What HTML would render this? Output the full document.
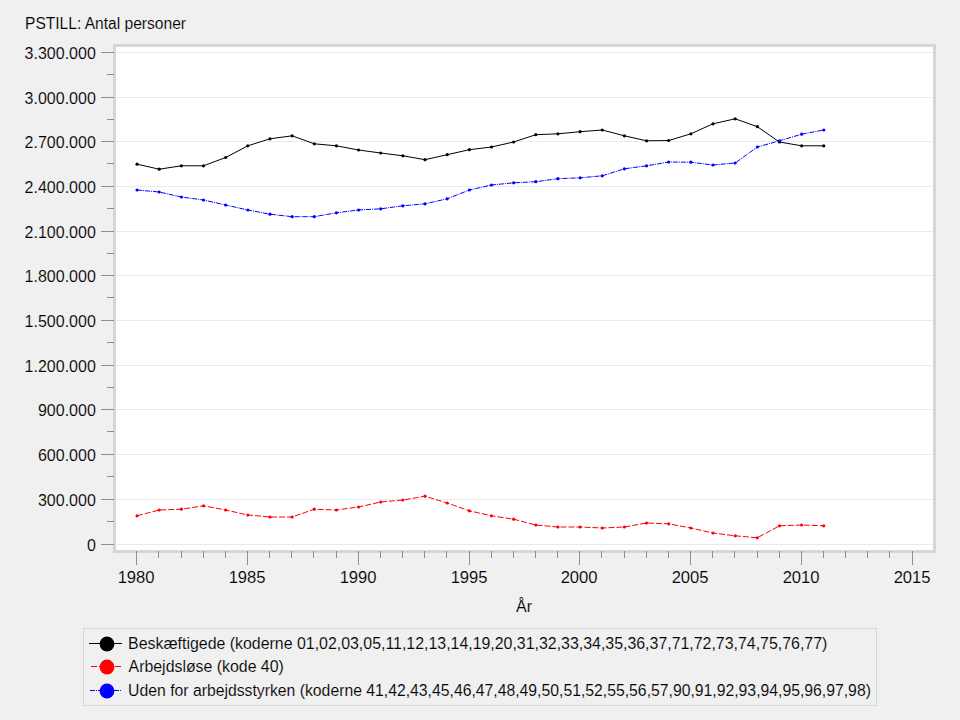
<!DOCTYPE html>
<html><head><meta charset="utf-8"><title>PSTILL</title>
<style>
html,body{margin:0;padding:0;background:#f0f0f0;width:960px;height:720px;overflow:hidden}
svg{display:block}
text{font-family:"Liberation Sans",sans-serif;font-size:16px;fill:#000;stroke:#f0f0f0;stroke-width:0.12px}
</style></head><body>
<svg width="960" height="720" viewBox="0 0 960 720">
<rect x="113" y="44" width="823" height="509" fill="#d5d6d5"/>
<rect x="116" y="47" width="817" height="503" fill="#fff"/>
<g shape-rendering="crispEdges"><rect x="116" y="544" width="817" height="1" fill="#efefef"/><line x1="116" x2="933" y1="544.5" y2="544.5" stroke="#e5e9e5" stroke-width="1" stroke-dasharray="1 1"/><rect x="116" y="499" width="817" height="1" fill="#efefef"/><line x1="116" x2="933" y1="499.5" y2="499.5" stroke="#e5e9e5" stroke-width="1" stroke-dasharray="1 1"/><rect x="116" y="454" width="817" height="1" fill="#efefef"/><line x1="116" x2="933" y1="454.5" y2="454.5" stroke="#e5e9e5" stroke-width="1" stroke-dasharray="1 1"/><rect x="116" y="409" width="817" height="1" fill="#efefef"/><line x1="116" x2="933" y1="409.5" y2="409.5" stroke="#e5e9e5" stroke-width="1" stroke-dasharray="1 1"/><rect x="116" y="365" width="817" height="1" fill="#efefef"/><line x1="116" x2="933" y1="365.5" y2="365.5" stroke="#e5e9e5" stroke-width="1" stroke-dasharray="1 1"/><rect x="116" y="320" width="817" height="1" fill="#efefef"/><line x1="116" x2="933" y1="320.5" y2="320.5" stroke="#e5e9e5" stroke-width="1" stroke-dasharray="1 1"/><rect x="116" y="275" width="817" height="1" fill="#efefef"/><line x1="116" x2="933" y1="275.5" y2="275.5" stroke="#e5e9e5" stroke-width="1" stroke-dasharray="1 1"/><rect x="116" y="231" width="817" height="1" fill="#efefef"/><line x1="116" x2="933" y1="231.5" y2="231.5" stroke="#e5e9e5" stroke-width="1" stroke-dasharray="1 1"/><rect x="116" y="186" width="817" height="1" fill="#efefef"/><line x1="116" x2="933" y1="186.5" y2="186.5" stroke="#e5e9e5" stroke-width="1" stroke-dasharray="1 1"/><rect x="116" y="141" width="817" height="1" fill="#efefef"/><line x1="116" x2="933" y1="141.5" y2="141.5" stroke="#e5e9e5" stroke-width="1" stroke-dasharray="1 1"/><rect x="116" y="97" width="817" height="1" fill="#efefef"/><line x1="116" x2="933" y1="97.5" y2="97.5" stroke="#e5e9e5" stroke-width="1" stroke-dasharray="1 1"/><rect x="116" y="52" width="817" height="1" fill="#efefef"/><line x1="116" x2="933" y1="52.5" y2="52.5" stroke="#e5e9e5" stroke-width="1" stroke-dasharray="1 1"/></g>
<g shape-rendering="crispEdges"><rect x="101" y="544" width="13" height="1" fill="#8b8f96"/><rect x="107" y="521" width="7" height="1" fill="#8b8f96"/><rect x="101" y="499" width="13" height="1" fill="#8b8f96"/><rect x="107" y="476" width="7" height="1" fill="#8b8f96"/><rect x="101" y="454" width="13" height="1" fill="#8b8f96"/><rect x="107" y="431" width="7" height="1" fill="#8b8f96"/><rect x="101" y="409" width="13" height="1" fill="#8b8f96"/><rect x="107" y="387" width="7" height="1" fill="#8b8f96"/><rect x="101" y="365" width="13" height="1" fill="#8b8f96"/><rect x="107" y="342" width="7" height="1" fill="#8b8f96"/><rect x="101" y="320" width="13" height="1" fill="#8b8f96"/><rect x="107" y="297" width="7" height="1" fill="#8b8f96"/><rect x="101" y="275" width="13" height="1" fill="#8b8f96"/><rect x="107" y="253" width="7" height="1" fill="#8b8f96"/><rect x="101" y="231" width="13" height="1" fill="#8b8f96"/><rect x="107" y="208" width="7" height="1" fill="#8b8f96"/><rect x="101" y="186" width="13" height="1" fill="#8b8f96"/><rect x="107" y="163" width="7" height="1" fill="#8b8f96"/><rect x="101" y="141" width="13" height="1" fill="#8b8f96"/><rect x="107" y="119" width="7" height="1" fill="#8b8f96"/><rect x="101" y="97" width="13" height="1" fill="#8b8f96"/><rect x="107" y="74" width="7" height="1" fill="#8b8f96"/><rect x="101" y="52" width="13" height="1" fill="#8b8f96"/><rect x="136" y="551" width="1" height="14" fill="#8b8f96"/><rect x="158" y="551" width="1" height="7" fill="#8b8f96"/><rect x="181" y="551" width="1" height="7" fill="#8b8f96"/><rect x="203" y="551" width="1" height="7" fill="#8b8f96"/><rect x="225" y="551" width="1" height="7" fill="#8b8f96"/><rect x="247" y="551" width="1" height="14" fill="#8b8f96"/><rect x="269" y="551" width="1" height="7" fill="#8b8f96"/><rect x="291" y="551" width="1" height="7" fill="#8b8f96"/><rect x="313" y="551" width="1" height="7" fill="#8b8f96"/><rect x="336" y="551" width="1" height="7" fill="#8b8f96"/><rect x="358" y="551" width="1" height="14" fill="#8b8f96"/><rect x="380" y="551" width="1" height="7" fill="#8b8f96"/><rect x="402" y="551" width="1" height="7" fill="#8b8f96"/><rect x="424" y="551" width="1" height="7" fill="#8b8f96"/><rect x="446" y="551" width="1" height="7" fill="#8b8f96"/><rect x="469" y="551" width="1" height="14" fill="#8b8f96"/><rect x="491" y="551" width="1" height="7" fill="#8b8f96"/><rect x="513" y="551" width="1" height="7" fill="#8b8f96"/><rect x="535" y="551" width="1" height="7" fill="#8b8f96"/><rect x="557" y="551" width="1" height="7" fill="#8b8f96"/><rect x="579" y="551" width="1" height="14" fill="#8b8f96"/><rect x="601" y="551" width="1" height="7" fill="#8b8f96"/><rect x="624" y="551" width="1" height="7" fill="#8b8f96"/><rect x="646" y="551" width="1" height="7" fill="#8b8f96"/><rect x="668" y="551" width="1" height="7" fill="#8b8f96"/><rect x="690" y="551" width="1" height="14" fill="#8b8f96"/><rect x="712" y="551" width="1" height="7" fill="#8b8f96"/><rect x="734" y="551" width="1" height="7" fill="#8b8f96"/><rect x="757" y="551" width="1" height="7" fill="#8b8f96"/><rect x="779" y="551" width="1" height="7" fill="#8b8f96"/><rect x="801" y="551" width="1" height="14" fill="#8b8f96"/><rect x="823" y="551" width="1" height="7" fill="#8b8f96"/><rect x="845" y="551" width="1" height="7" fill="#8b8f96"/><rect x="867" y="551" width="1" height="7" fill="#8b8f96"/><rect x="889" y="551" width="1" height="7" fill="#8b8f96"/><rect x="912" y="551" width="1" height="14" fill="#8b8f96"/></g>
<polyline points="137.06,164.2 159.21,169.2 181.36,165.8 203.52,165.8 225.67,157.5 247.82,145.8 269.97,138.8 292.12,135.8 314.28,143.8 336.43,145.8 358.58,150 380.73,153 402.88,155.8 425.04,159.7 447.19,154.7 469.34,149.7 491.49,147 513.64,142 535.80,134.7 557.95,133.8 580.10,131.7 602.25,130 624.40,135.8 646.56,140.8 668.71,140.5 690.86,133.8 713.01,123.8 735.16,118.8 757.32,126.7 779.47,142 801.62,145.8 823.77,145.8" fill="none" stroke="#000" stroke-width="1.0" stroke-linejoin="round"/><circle cx="137.06" cy="164.2" r="1.6" fill="#000"/><circle cx="159.21" cy="169.2" r="1.6" fill="#000"/><circle cx="181.36" cy="165.8" r="1.6" fill="#000"/><circle cx="203.52" cy="165.8" r="1.6" fill="#000"/><circle cx="225.67" cy="157.5" r="1.6" fill="#000"/><circle cx="247.82" cy="145.8" r="1.6" fill="#000"/><circle cx="269.97" cy="138.8" r="1.6" fill="#000"/><circle cx="292.12" cy="135.8" r="1.6" fill="#000"/><circle cx="314.28" cy="143.8" r="1.6" fill="#000"/><circle cx="336.43" cy="145.8" r="1.6" fill="#000"/><circle cx="358.58" cy="150" r="1.6" fill="#000"/><circle cx="380.73" cy="153" r="1.6" fill="#000"/><circle cx="402.88" cy="155.8" r="1.6" fill="#000"/><circle cx="425.04" cy="159.7" r="1.6" fill="#000"/><circle cx="447.19" cy="154.7" r="1.6" fill="#000"/><circle cx="469.34" cy="149.7" r="1.6" fill="#000"/><circle cx="491.49" cy="147" r="1.6" fill="#000"/><circle cx="513.64" cy="142" r="1.6" fill="#000"/><circle cx="535.80" cy="134.7" r="1.6" fill="#000"/><circle cx="557.95" cy="133.8" r="1.6" fill="#000"/><circle cx="580.10" cy="131.7" r="1.6" fill="#000"/><circle cx="602.25" cy="130" r="1.6" fill="#000"/><circle cx="624.40" cy="135.8" r="1.6" fill="#000"/><circle cx="646.56" cy="140.8" r="1.6" fill="#000"/><circle cx="668.71" cy="140.5" r="1.6" fill="#000"/><circle cx="690.86" cy="133.8" r="1.6" fill="#000"/><circle cx="713.01" cy="123.8" r="1.6" fill="#000"/><circle cx="735.16" cy="118.8" r="1.6" fill="#000"/><circle cx="757.32" cy="126.7" r="1.6" fill="#000"/><circle cx="779.47" cy="142" r="1.6" fill="#000"/><circle cx="801.62" cy="145.8" r="1.6" fill="#000"/><circle cx="823.77" cy="145.8" r="1.6" fill="#000"/>
<polyline points="137.06,515.8 159.21,510 181.36,509.2 203.52,505.8 225.67,510 247.82,515 269.97,517 292.12,517 314.28,509.2 336.43,510 358.58,507 380.73,502 402.88,500 425.04,496.2 447.19,503 469.34,510.8 491.49,515.8 513.64,519.2 535.80,525 557.95,527 580.10,527 602.25,528 624.40,527 646.56,523 668.71,523.8 690.86,528 713.01,533 735.16,535.8 757.32,537.8 779.47,525.8 801.62,525 823.77,525.8" fill="none" stroke="#f00" stroke-width="1.0" stroke-dasharray="6 2" stroke-linejoin="round"/><circle cx="137.06" cy="515.8" r="1.6" fill="#f00"/><circle cx="159.21" cy="510" r="1.6" fill="#f00"/><circle cx="181.36" cy="509.2" r="1.6" fill="#f00"/><circle cx="203.52" cy="505.8" r="1.6" fill="#f00"/><circle cx="225.67" cy="510" r="1.6" fill="#f00"/><circle cx="247.82" cy="515" r="1.6" fill="#f00"/><circle cx="269.97" cy="517" r="1.6" fill="#f00"/><circle cx="292.12" cy="517" r="1.6" fill="#f00"/><circle cx="314.28" cy="509.2" r="1.6" fill="#f00"/><circle cx="336.43" cy="510" r="1.6" fill="#f00"/><circle cx="358.58" cy="507" r="1.6" fill="#f00"/><circle cx="380.73" cy="502" r="1.6" fill="#f00"/><circle cx="402.88" cy="500" r="1.6" fill="#f00"/><circle cx="425.04" cy="496.2" r="1.6" fill="#f00"/><circle cx="447.19" cy="503" r="1.6" fill="#f00"/><circle cx="469.34" cy="510.8" r="1.6" fill="#f00"/><circle cx="491.49" cy="515.8" r="1.6" fill="#f00"/><circle cx="513.64" cy="519.2" r="1.6" fill="#f00"/><circle cx="535.80" cy="525" r="1.6" fill="#f00"/><circle cx="557.95" cy="527" r="1.6" fill="#f00"/><circle cx="580.10" cy="527" r="1.6" fill="#f00"/><circle cx="602.25" cy="528" r="1.6" fill="#f00"/><circle cx="624.40" cy="527" r="1.6" fill="#f00"/><circle cx="646.56" cy="523" r="1.6" fill="#f00"/><circle cx="668.71" cy="523.8" r="1.6" fill="#f00"/><circle cx="690.86" cy="528" r="1.6" fill="#f00"/><circle cx="713.01" cy="533" r="1.6" fill="#f00"/><circle cx="735.16" cy="535.8" r="1.6" fill="#f00"/><circle cx="757.32" cy="537.8" r="1.6" fill="#f00"/><circle cx="779.47" cy="525.8" r="1.6" fill="#f00"/><circle cx="801.62" cy="525" r="1.6" fill="#f00"/><circle cx="823.77" cy="525.8" r="1.6" fill="#f00"/>
<polyline points="137.06,190 159.21,192 181.36,197 203.52,200 225.67,205 247.82,210 269.97,214.2 292.12,216.7 314.28,216.7 336.43,212.8 358.58,210 380.73,208.8 402.88,205.8 425.04,203.8 447.19,198.8 469.34,190 491.49,185 513.64,182.8 535.80,181.7 557.95,178.7 580.10,177.8 602.25,175.8 624.40,168.8 646.56,165.8 668.71,162 690.86,162.2 713.01,165 735.16,163 757.32,147 779.47,140.8 801.62,134.2 823.77,130" fill="none" stroke="#00f" stroke-width="1.0" stroke-dasharray="5 1 1 1" stroke-linejoin="round"/><circle cx="137.06" cy="190" r="1.6" fill="#00f"/><circle cx="159.21" cy="192" r="1.6" fill="#00f"/><circle cx="181.36" cy="197" r="1.6" fill="#00f"/><circle cx="203.52" cy="200" r="1.6" fill="#00f"/><circle cx="225.67" cy="205" r="1.6" fill="#00f"/><circle cx="247.82" cy="210" r="1.6" fill="#00f"/><circle cx="269.97" cy="214.2" r="1.6" fill="#00f"/><circle cx="292.12" cy="216.7" r="1.6" fill="#00f"/><circle cx="314.28" cy="216.7" r="1.6" fill="#00f"/><circle cx="336.43" cy="212.8" r="1.6" fill="#00f"/><circle cx="358.58" cy="210" r="1.6" fill="#00f"/><circle cx="380.73" cy="208.8" r="1.6" fill="#00f"/><circle cx="402.88" cy="205.8" r="1.6" fill="#00f"/><circle cx="425.04" cy="203.8" r="1.6" fill="#00f"/><circle cx="447.19" cy="198.8" r="1.6" fill="#00f"/><circle cx="469.34" cy="190" r="1.6" fill="#00f"/><circle cx="491.49" cy="185" r="1.6" fill="#00f"/><circle cx="513.64" cy="182.8" r="1.6" fill="#00f"/><circle cx="535.80" cy="181.7" r="1.6" fill="#00f"/><circle cx="557.95" cy="178.7" r="1.6" fill="#00f"/><circle cx="580.10" cy="177.8" r="1.6" fill="#00f"/><circle cx="602.25" cy="175.8" r="1.6" fill="#00f"/><circle cx="624.40" cy="168.8" r="1.6" fill="#00f"/><circle cx="646.56" cy="165.8" r="1.6" fill="#00f"/><circle cx="668.71" cy="162" r="1.6" fill="#00f"/><circle cx="690.86" cy="162.2" r="1.6" fill="#00f"/><circle cx="713.01" cy="165" r="1.6" fill="#00f"/><circle cx="735.16" cy="163" r="1.6" fill="#00f"/><circle cx="757.32" cy="147" r="1.6" fill="#00f"/><circle cx="779.47" cy="140.8" r="1.6" fill="#00f"/><circle cx="801.62" cy="134.2" r="1.6" fill="#00f"/><circle cx="823.77" cy="130" r="1.6" fill="#00f"/>
<rect x="83.5" y="628.5" width="793" height="77" fill="none" stroke="#d6d8d6" stroke-width="1"/>
<line x1="89" x2="122" y1="643.5" y2="643.5" stroke="#000" stroke-width="1.0" shape-rendering="crispEdges"/>
<circle cx="107" cy="644" r="7.4" fill="#000"/>
<line x1="91" x2="121" y1="666.5" y2="666.5" stroke="#f00" stroke-width="1.0" stroke-dasharray="6 2" shape-rendering="crispEdges"/>
<circle cx="107" cy="667" r="7.4" fill="#f00"/>
<line x1="90" x2="121" y1="690.5" y2="690.5" stroke="#00f" stroke-width="1.0" stroke-dasharray="5 1 1 1" shape-rendering="crispEdges"/>
<circle cx="107" cy="691" r="7.4" fill="#00f"/>
<text x="25.0" y="29" text-anchor="start" textLength="161" lengthAdjust="spacingAndGlyphs">PSTILL: Antal personer</text>
<text x="95.8" y="550.8" text-anchor="end">0</text>
<text x="95.8" y="505.8" text-anchor="end">300.000</text>
<text x="95.8" y="460.8" text-anchor="end">600.000</text>
<text x="95.8" y="415.8" text-anchor="end">900.000</text>
<text x="95.8" y="371.8" text-anchor="end">1.200.000</text>
<text x="95.8" y="326.8" text-anchor="end">1.500.000</text>
<text x="95.8" y="281.8" text-anchor="end">1.800.000</text>
<text x="95.8" y="237.8" text-anchor="end">2.100.000</text>
<text x="95.8" y="192.8" text-anchor="end">2.400.000</text>
<text x="95.8" y="147.8" text-anchor="end">2.700.000</text>
<text x="95.8" y="103.8" text-anchor="end">3.000.000</text>
<text x="95.8" y="58.8" text-anchor="end">3.300.000</text>
<text x="136.1" y="582.7" text-anchor="middle" textLength="36.9" lengthAdjust="spacingAndGlyphs">1980</text>
<text x="247.1" y="582.7" text-anchor="middle" textLength="36.9" lengthAdjust="spacingAndGlyphs">1985</text>
<text x="358.1" y="582.7" text-anchor="middle" textLength="36.9" lengthAdjust="spacingAndGlyphs">1990</text>
<text x="469.1" y="582.7" text-anchor="middle" textLength="36.9" lengthAdjust="spacingAndGlyphs">1995</text>
<text x="579.1" y="582.7" text-anchor="middle" textLength="36.9" lengthAdjust="spacingAndGlyphs">2000</text>
<text x="690.1" y="582.7" text-anchor="middle" textLength="36.9" lengthAdjust="spacingAndGlyphs">2005</text>
<text x="801.1" y="582.7" text-anchor="middle" textLength="36.9" lengthAdjust="spacingAndGlyphs">2010</text>
<text x="912.1" y="582.7" text-anchor="middle" textLength="36.9" lengthAdjust="spacingAndGlyphs">2015</text>
<text x="524" y="611.5" text-anchor="middle">År</text>
<text x="128.1" y="648.5" text-anchor="start" textLength="699.2" lengthAdjust="spacingAndGlyphs">Beskæftigede (koderne 01,02,03,05,11,12,13,14,19,20,31,32,33,34,35,36,37,71,72,73,74,75,76,77)</text>
<text x="128.6" y="671.7" text-anchor="start" textLength="155.2" lengthAdjust="spacingAndGlyphs">Arbejdsløse (kode 40)</text>
<text x="128.1" y="695.5" text-anchor="start" textLength="742.8" lengthAdjust="spacingAndGlyphs">Uden for arbejdsstyrken (koderne 41,42,43,45,46,47,48,49,50,51,52,55,56,57,90,91,92,93,94,95,96,97,98)</text>
</svg>
</body></html>
